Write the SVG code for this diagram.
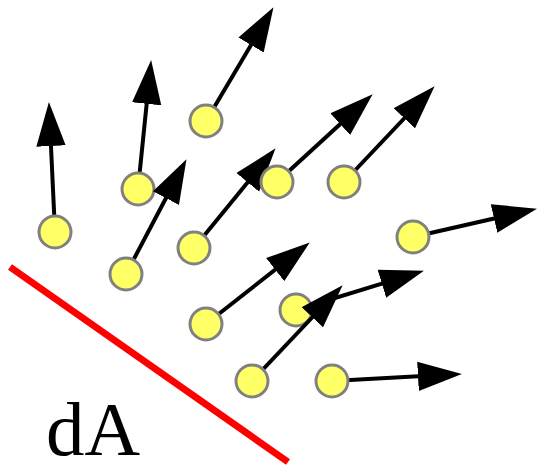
<svg xmlns="http://www.w3.org/2000/svg" width="537" height="467" viewBox="0 0 537 467">
<style>
.v{stroke:#000;stroke-width:4;fill:none;marker-end:url(#ah)}
.p{fill:#ffff66;stroke:#808080;stroke-width:3}
.lbl{font-family:"Liberation Serif","Times New Roman",serif;font-size:77px;fill:#000}
</style>
<defs>
<marker id="ah" markerUnits="userSpaceOnUse" markerWidth="44" markerHeight="30" viewBox="0 0 42 28" refX="22" refY="14" orient="auto">
<path d="M0,0 L42,14 L0,28 z" fill="#000"/>
</marker>
</defs>
<rect width="537" height="467" fill="#fff"/>
<g id="surface"><line x1="10" y1="267" x2="288" y2="462" stroke="#ff0000" stroke-width="7"/></g>
<g id="particle1"><line class="v" x1="55" y1="232" x2="49.9" y2="123"/><circle class="p" cx="55" cy="232" r="16"/></g>
<g id="particle2"><line class="v" x1="138" y1="189" x2="149" y2="80.9"/><circle class="p" cx="138" cy="189" r="16"/></g>
<g id="particle3"><line class="v" x1="206" y1="121" x2="262.8" y2="25.2"/><circle class="p" cx="206" cy="121" r="16"/></g>
<g id="particle4"><line class="v" x1="126" y1="274" x2="176.7" y2="177.7"/><circle class="p" cx="126" cy="274" r="16"/></g>
<g id="particle5"><line class="v" x1="194" y1="248" x2="262.3" y2="164.5"/><circle class="p" cx="194" cy="248" r="16"/></g>
<g id="particle6"><line class="v" x1="277" y1="182" x2="357.2" y2="108.5"/><circle class="p" cx="277" cy="182" r="16"/></g>
<g id="particle7"><line class="v" x1="344" y1="182" x2="420.2" y2="101.5"/><circle class="p" cx="344" cy="182" r="16"/></g>
<g id="particle8"><line class="v" x1="413" y1="237" x2="516.5" y2="213.4"/><circle class="p" cx="413" cy="237" r="16"/></g>
<g id="particle9"><line class="v" x1="206" y1="324" x2="293.3" y2="255.4"/><circle class="p" cx="206" cy="324" r="16"/></g>
<g id="particle10"><line class="v" x1="296" y1="310" x2="403.9" y2="276.9"/><circle class="p" cx="296" cy="310" r="16"/></g>
<g id="particle11"><line class="v" x1="252" y1="381" x2="328.2" y2="300.5"/><circle class="p" cx="252" cy="381" r="16"/></g>
<g id="particle12"><line class="v" x1="332" y1="381" x2="441" y2="375.1"/><circle class="p" cx="332" cy="381" r="16"/></g>
<text class="lbl" x="46" y="455">dA</text>
</svg>
